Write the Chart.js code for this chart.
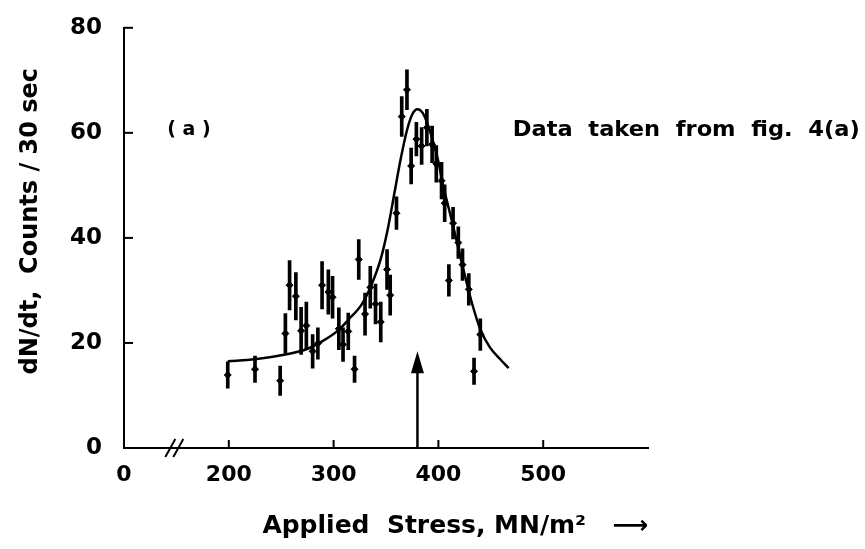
<!DOCTYPE html>
<html>
<head>
<meta charset="utf-8">
<script src="https://cdn.jsdelivr.net/npm/chart.js@4.4.0/dist/chart.umd.min.js"></script>
<style>
  html, body { margin: 0; padding: 0; background: #fff; }
</style>
</head>
<body>
<canvas id="stressChart" width="865" height="549"></canvas>
<script>
// measured points (applied stress, count rate) with their error bars
const stress = [199, 225, 249, 254, 258, 264, 269, 274, 280, 285, 289, 295, 299, 305, 309, 314, 320, 324, 330, 335, 340, 345, 351, 354,
                360, 365, 370, 374, 379, 384, 389, 394, 398, 403, 406, 410, 414, 419, 423, 429, 434, 440];
const counts = [13.9, 15.0, 12.8, 21.8, 31.0, 28.9, 22.3, 23.3, 18.4, 19.9, 31.0, 29.7, 28.7, 22.7, 19.7, 22.2, 15.0, 35.9, 25.5, 30.6, 27.4, 24.0, 34.0, 29.1,
                44.7, 63.1, 68.2, 53.7, 58.8, 57.5, 61.0, 57.8, 54.1, 50.9, 46.6, 31.9, 42.8, 39.1, 34.9, 30.2, 14.6, 21.6];
const errors = [2.5, 2.5, 2.8, 3.8, 4.7, 4.5, 4.5, 4.5, 3.2, 3.0, 4.5, 4.2, 4.0, 4.0, 3.2, 3.5, 2.5, 3.8, 4.0, 4.0, 3.8, 3.8, 3.8, 3.8,
                3.1, 3.8, 3.8, 3.4, 3.2, 3.5, 3.5, 3.5, 3.5, 3.5, 3.5, 3.0, 3.0, 3.0, 3.0, 3.0, 2.5, 3.0];

// fitted curve
const fitStress = [199, 225, 254, 274, 289, 305, 314, 327, 336, 345, 352, 358, 364, 370, 375, 380, 385, 390, 395, 400, 404, 414, 423, 432, 440, 449, 459, 467];
const fitCounts = [16.5, 16.9, 17.8, 18.8, 20.3, 22.5, 24.4, 27.4, 31.0, 36.0, 42.0, 48.5, 55.0, 60.5, 63.5, 64.5, 63.8, 61.5, 58.3, 54.5, 50.5, 42.3, 34.7, 27.6, 22.6, 19.2, 16.9, 15.2];

const xTickMarks = [200, 300, 400, 500];
const yTickMarks = [20, 40, 60, 80];
const breakAt = 148;
const peakArrow = { stress: 380, tip: 18.4 };

const font = 'DejaVu Sans';

const pointsData = stress.map((s, i) => ({ x: s, y: counts[i] }));
const barsData = stress.map((s, i) => ({ x: s, y: [counts[i] - errors[i], counts[i] + errors[i]] }));
const fitData = fitStress.map((s, i) => ({ x: s, y: fitCounts[i] }));

const decorations = {
    id: 'decorations',
    afterDraw(chart) {
        const { ctx, scales: { x, y } } = chart;
        ctx.save();
        ctx.strokeStyle = '#000';
        ctx.fillStyle = '#000';
        ctx.lineWidth = 2;

        // inward tick marks
        yTickMarks.forEach(v => {
            const py = y.getPixelForValue(v);
            ctx.beginPath();
            ctx.moveTo(x.left, py);
            ctx.lineTo(x.left + 9, py);
            ctx.stroke();
        });
        xTickMarks.forEach(v => {
            const px = x.getPixelForValue(v);
            ctx.beginPath();
            ctx.moveTo(px, y.bottom);
            ctx.lineTo(px, y.bottom - 8);
            ctx.stroke();
        });

        // axis break
        const bx = x.getPixelForValue(breakAt);
        [-4, 4].forEach(d => {
            ctx.beginPath();
            ctx.moveTo(bx + d - 5, y.bottom + 9);
            ctx.lineTo(bx + d + 5, y.bottom - 9);
            ctx.stroke();
        });

        // arrow at the peak stress
        const ax = x.getPixelForValue(peakArrow.stress);
        const tipY = y.getPixelForValue(peakArrow.tip);
        ctx.lineWidth = 2.5;
        ctx.beginPath();
        ctx.moveTo(ax, y.bottom);
        ctx.lineTo(ax, tipY + 18);
        ctx.stroke();
        ctx.beginPath();
        ctx.moveTo(ax, tipY);
        ctx.lineTo(ax - 6.5, tipY + 22);
        ctx.lineTo(ax + 6.5, tipY + 22);
        ctx.closePath();
        ctx.fill();

        // labels
        ctx.textBaseline = 'middle';
        ctx.font = 'bold 19px "' + font + '"';
        ctx.textAlign = 'center';
        ctx.fillText('( a )', x.getPixelForValue(162), y.getPixelForValue(60.5));
        ctx.textAlign = 'left';
        ctx.font = 'bold 21px "' + font + '"';
        const note = 'Data  taken  from  fig.  4(a)';
        const nx = x.getPixelForValue(471);
        const w = ctx.measureText(note).width;
        ctx.translate(nx, y.getPixelForValue(60.5));
        ctx.scale(347 / w, 1);
        ctx.fillText(note, 0, 0);
        ctx.restore();
    }
};

new Chart(document.getElementById('stressChart'), {
    type: 'scatter',
    data: {
        datasets: [
            {
                type: 'line',
                label: 'fit',
                data: fitData,
                borderColor: '#000',
                borderWidth: 2.5,
                pointRadius: 0,
                cubicInterpolationMode: 'monotone',
                fill: false
            },
            {
                type: 'scatter',
                label: 'dN/dt',
                data: pointsData,
                pointStyle: 'rectRot',
                pointRadius: 3.5,
                backgroundColor: '#000',
                borderColor: '#000',
                borderWidth: 1
            },
            {
                type: 'bar',
                label: 'error',
                data: barsData,
                backgroundColor: '#000',
                barThickness: 3,
                grouped: false
            }
        ]
    },
    options: {
        responsive: false,
        animation: false,
        devicePixelRatio: 1,
        layout: { padding: { left: 0, top: 22, right: 217, bottom: 0 } },
        plugins: {
            legend: { display: false },
            tooltip: { enabled: false }
        },
        scales: {
            x: {
                type: 'linear',
                min: 100,
                max: 600,
                offset: false,
                afterFit: (s) => { s.height = 101; },
                grid: { display: false },
                border: { display: true, color: '#000', width: 2 },
                ticks: {
                    stepSize: 100,
                    padding: 6,
                    color: '#000',
                    font: { family: font, size: 22, weight: 'bold' },
                    callback: (v) => v === 100 ? '0' : (v === 600 ? '' : v)
                },
                title: {
                    display: true,
                    text: 'Applied  Stress, MN/m\u00B2   \u27F6',
                    align: 'end',
                    color: '#000',
                    font: { family: font, size: 25, weight: 'bold' },
                    padding: { top: 0, bottom: 8 }
                }
            },
            y: {
                min: 0,
                max: 80,
                afterFit: (s) => { s.width = 124; },
                grid: { display: false },
                border: { display: true, color: '#000', width: 2 },
                ticks: {
                    stepSize: 20,
                    padding: 14,
                    color: '#000',
                    font: { family: font, size: 23, weight: 'bold' }
                },
                title: {
                    display: true,
                    text: '    dN/dt,  Counts / 30 sec',
                    color: '#000',
                    font: { family: font, size: 24, weight: 'bold' },
                    padding: { top: 16, bottom: 0 }
                }
            }
        }
    },
    plugins: [decorations]
});
</script>
</body>
</html>
